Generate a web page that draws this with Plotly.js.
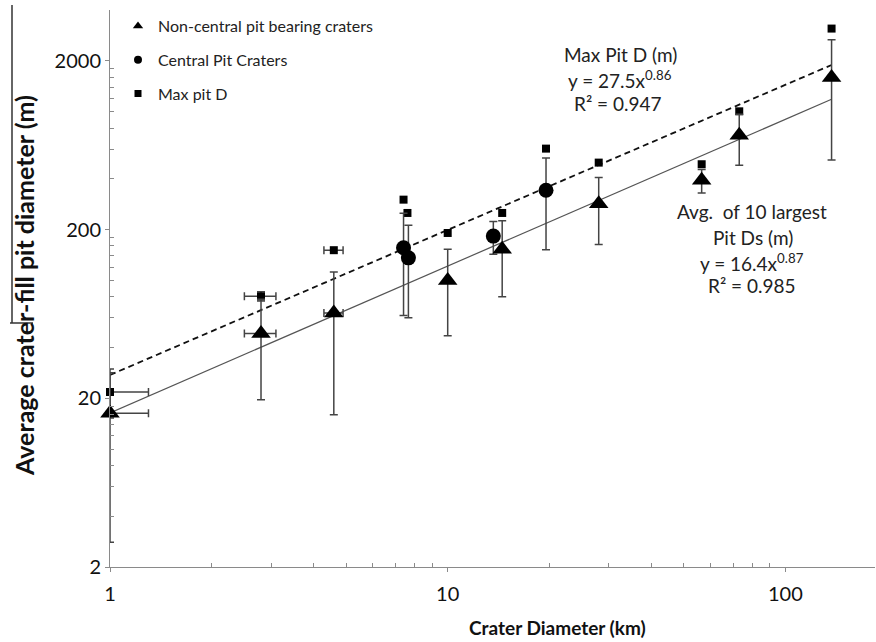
<!DOCTYPE html>
<html>
<head>
<meta charset="utf-8">
<script src="https://cdn.plot.ly/plotly-3.0.1.min.js"></script>
<style>html,body{margin:0;padding:0;background:#fff;}#chart{width:876px;height:642px;}</style>
</head>
<body>
<div id="chart"></div>
<script>
// Non-central pit bearing craters (triangles)
const triX = [1, 2.8, 4.6, 10, 14.5, 28, 56.5, 73, 137];
const triY = [16.3, 48.4, 64, 100, 153, 285, 392, 724, 1592];
const triErrY = [13.5, 28.8, 48, 53, 73, 122, 62, 243, 1075];
const triErrXPlus = [0.3, 0.3, 0.3, NaN, NaN, NaN, NaN, NaN, NaN];
const triErrXMinus = [0, 0.3, 0.3, NaN, NaN, NaN, NaN, NaN, NaN];

// Central pit craters (circles)
const cirX = [7.4, 7.65, 13.65, 19.55];
const cirY = [156, 136, 183, 342];
const cirErrY = [94, 76, 40, 190];

// Max pit D (squares)
const sqX = [1, 2.8, 4.6, 7.4, 7.6, 10, 14.5, 19.55, 28, 56.5, 73, 137];
const sqY = [21.8, 80.5, 151, 301, 251, 191, 251, 604, 499, 488, 1005, 3109];
const sqErrY = [6.5, 5, NaN, NaN, NaN, NaN, NaN, NaN, NaN, NaN, NaN, NaN];
const sqErrXPlus = [0.3, 0.3, 0.3, NaN, NaN, NaN, NaN, NaN, NaN, NaN, NaN, NaN];
const sqErrXMinus = [0, 0.3, 0.3, NaN, NaN, NaN, NaN, NaN, NaN, NaN, NaN, NaN];

// Power-law trend lines given on the chart
const maxFit = {a: 27.5, b: 0.86};
const avgFit = {a: 16.4, b: 0.87};
const fitX = [1, 137];

// Axis ticks
const xTickVals = [1, 10, 100];
const xTickText = ['1', '10', '100'];
const xMinor = [2,3,4,5,6,7,8,9,20,30,40,50,60,70,80,90];
const yTickVals = [2, 20, 200, 2000];
const yTickText = ['2', '20', '200', '2000'];
const yMinor = [4,6,8,10,12,14,16,18,40,60,80,100,120,140,160,180,400,600,800,1000,1200,1400,1600,1800];

const legendNames = ['Non-central pit bearing craters', 'Central Pit Craters', 'Max pit D'];
const xTitle = 'Crater Diameter (km)';
const yTitle = 'Average crater-fill pit diameter (m)';

const FONT = 'Lato, "Open Sans", sans-serif';
const errStyle = {color: '#444', thickness: 1.5, width: 4};

const traces = [
  {x: fitX, y: fitX.map(v => maxFit.a * Math.pow(v, maxFit.b)), mode: 'lines', showlegend: false, hoverinfo: 'skip',
   line: {color: '#111', width: 1.8, dash: '6px,4px'}},
  {x: fitX, y: fitX.map(v => avgFit.a * Math.pow(v, avgFit.b)), mode: 'lines', showlegend: false, hoverinfo: 'skip',
   line: {color: '#555', width: 1.2}},
  {x: sqX, y: sqY, mode: 'markers', name: legendNames[2], legendgroup: 'sq', showlegend: false, cliponaxis: false,
   marker: {symbol: 'square', size: 8, color: '#000'},
   error_y: Object.assign({type: 'data', array: sqErrY, visible: true}, errStyle),
   error_x: Object.assign({type: 'data', symmetric: false, array: sqErrXPlus, arrayminus: sqErrXMinus, visible: true}, errStyle)},
  {x: cirX, y: cirY, mode: 'markers', name: legendNames[1], legendgroup: 'cir', showlegend: false, cliponaxis: false,
   marker: {symbol: 'circle', size: 15, color: '#000'},
   error_y: Object.assign({type: 'data', array: cirErrY, visible: true}, errStyle)},
  {x: triX, y: triY, mode: 'markers', name: legendNames[0], legendgroup: 'tri', showlegend: false, cliponaxis: false,
   marker: {symbol: 'triangle-up', size: 17, color: '#000'},
   error_y: Object.assign({type: 'data', array: triErrY, visible: true}, errStyle),
   error_x: Object.assign({type: 'data', symmetric: false, array: triErrXPlus, arrayminus: triErrXMinus, visible: true}, errStyle)},
  // legend entries (small symbols as in the original legend)
  {x: [null], y: [null], mode: 'markers', name: legendNames[0], legendgroup: 'tri', marker: {symbol: 'triangle-up', size: 9, color: '#000'}},
  {x: [null], y: [null], mode: 'markers', name: legendNames[1], legendgroup: 'cir', marker: {symbol: 'circle', size: 8, color: '#000'}},
  {x: [null], y: [null], mode: 'markers', name: legendNames[2], legendgroup: 'sq', marker: {symbol: 'square', size: 7, color: '#000'}}
];

const px = v => (v - 110) / 765;
const py = v => (567 - v) / 557;
function ann(text, x, y, size, bold, angle) {
  return {text: bold ? '<b>' + text + '</b>' : text, xref: 'paper', yref: 'paper', x: px(x), y: py(y),
          xanchor: 'center', yanchor: 'middle', showarrow: false, textangle: angle || 0,
          font: {family: FONT, size: size, color: bold ? '#111' : '#222'}};
}

const layout = {
  width: 876, height: 642,
  margin: {l: 110, r: 1, t: 10, b: 75, pad: 0},
  paper_bgcolor: '#fff', plot_bgcolor: '#fff',
  font: {family: FONT, color: '#111'},
  showlegend: true,
  legend: {x: px(118), y: py(9), xanchor: 'left', yanchor: 'top', bgcolor: 'rgba(0,0,0,0)',
           font: {family: FONT, size: 16, color: '#222'}, traceorder: 'grouped', tracegroupgap: 10},
  xaxis: {type: 'log', range: [0, 765 / 337.7], showgrid: false, zeroline: false,
          showline: true, linecolor: '#8a8a8a', linewidth: 1,
          tickmode: 'array', tickvals: xTickVals, ticktext: xTickText,
          ticks: 'outside', ticklen: 4, tickcolor: '#8a8a8a', ticklabelstandoff: 5,
          tickfont: {family: FONT, size: 20, color: '#111'},
          minor: {tickmode: 'array', tickvals: xMinor, ticks: 'inside', ticklen: 4, tickcolor: '#8a8a8a', showgrid: false}},
  yaxis: {type: 'log', range: [Math.log10(2), Math.log10(2) + 557 / 168.7], showgrid: false, zeroline: false,
          showline: true, linecolor: '#8a8a8a', linewidth: 1,
          tickmode: 'array', tickvals: yTickVals, ticktext: yTickText,
          ticks: 'outside', ticklen: 4, tickcolor: '#8a8a8a',
          tickfont: {family: FONT, size: 20, color: '#111'},
          minor: {tickmode: 'array', tickvals: yMinor, ticks: 'inside', ticklen: 4, tickcolor: '#8a8a8a', showgrid: false}},
  annotations: [
    ann(xTitle, 557, 627, 19, true),
    ann(yTitle, 24, 286, 25, true, -90),
    ann('Max Pit D (m)', 620, 55, 19),
    ann('y = 27.5x<sup>0.86</sup>', 620, 79, 19),
    ann('R\u00b2 = 0.947', 618, 103, 19),
    ann('Avg.\u00a0 of 10 largest', 752, 212, 19),
    ann('Pit Ds (m)', 753, 237, 19),
    ann('y = 16.4x<sup>0.87</sup>', 752, 262, 19),
    ann('R\u00b2 = 0.985', 752, 285, 19)
  ],
  shapes: [
    {type: 'line', xref: 'paper', yref: 'paper', x0: px(12), x1: px(12), y0: py(5), y1: py(323), line: {color: '#333', width: 1.5}},
    {type: 'line', xref: 'paper', yref: 'paper', x0: px(10), x1: px(33), y0: py(323), y1: py(323), line: {color: '#333', width: 1.5}}
  ]
};

Plotly.newPlot('chart', traces, layout, {displayModeBar: false, staticPlot: true});
</script>
</body>
</html>
